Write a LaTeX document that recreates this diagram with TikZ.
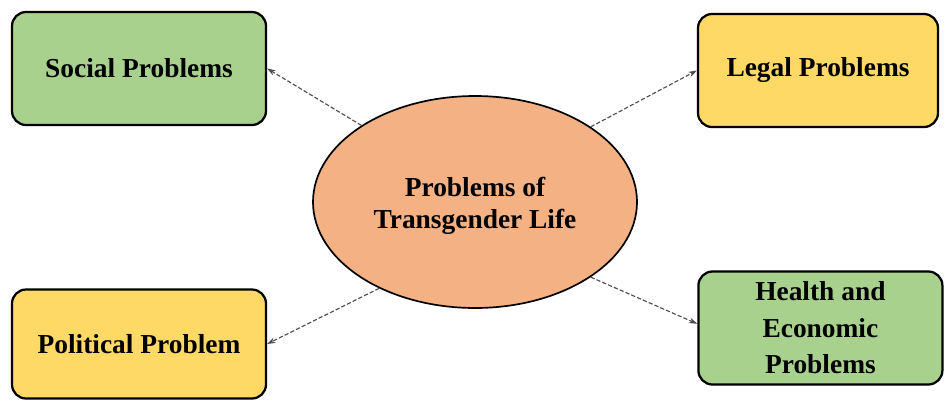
\documentclass[tikz,border=0pt]{standalone}
\usepackage{fontspec}
\setmainfont{Liberation Serif}
\usetikzlibrary{shapes.geometric,arrows.meta}
\definecolor{verde}{HTML}{A9D18E}
\definecolor{amarillo}{HTML}{FFD966}
\definecolor{naranja}{HTML}{F4B183}
\tikzset{
    caja/.style={draw=black, line width=1.6pt, rounded corners=10pt, align=center,
        inner sep=2pt, font=\bfseries\fontsize{19.5}{26}\selectfont},
    flecha/.style={->, gray!60!black, line width=0.8pt, dash pattern=on 3pt off 1.5pt}
}
\begin{document}
\begin{tikzpicture}[>={Stealth[length=6pt,width=4pt]}]
    \useasboundingbox (0,0) rectangle (23.625,9.975);
    % Elipse central
    \node[ellipse, draw=black, line width=1.2pt, fill=naranja, minimum width=8.1cm,
        minimum height=5.3cm, inner sep=0pt, align=center,
        font=\bfseries\fontsize{19.5}{23}\selectfont]
        (centro) at (11.875,4.925) {};
    \node[align=center, font=\bfseries\fontsize{19.5}{23}\selectfont]
        (titulo) at ([yshift=-0.1cm]centro.center) {Problems of\\Transgender Life};
    % Cajas de problemas
    \node[caja, fill=verde, minimum width=6.35cm, minimum height=2.825cm]
        (social) at (3.475,8.2625) {Social Problems};
    \node[caja, fill=amarillo, minimum width=6.0cm, minimum height=2.825cm]
        (legal) at (20.45,8.2125) {Legal Problems};
    \node[caja, fill=amarillo, minimum width=6.35cm, minimum height=2.725cm]
        (politica) at (3.475,1.375) {Political Problem};
    \node[caja, fill=verde, minimum width=6.1cm, minimum height=2.825cm]
        (salud) at (20.51,1.775) {Health and\\Economic\\Problems};
    % Flechas
    \draw[flecha] (centro.146) -- (social.east);
    \draw[flecha] (centro.33) -- (legal.west);
    \draw[flecha] (centro.222) -- (politica.east);
    \draw[flecha] (centro.327) -- ([yshift=3pt]salud.west);
\end{tikzpicture}
\end{document}
